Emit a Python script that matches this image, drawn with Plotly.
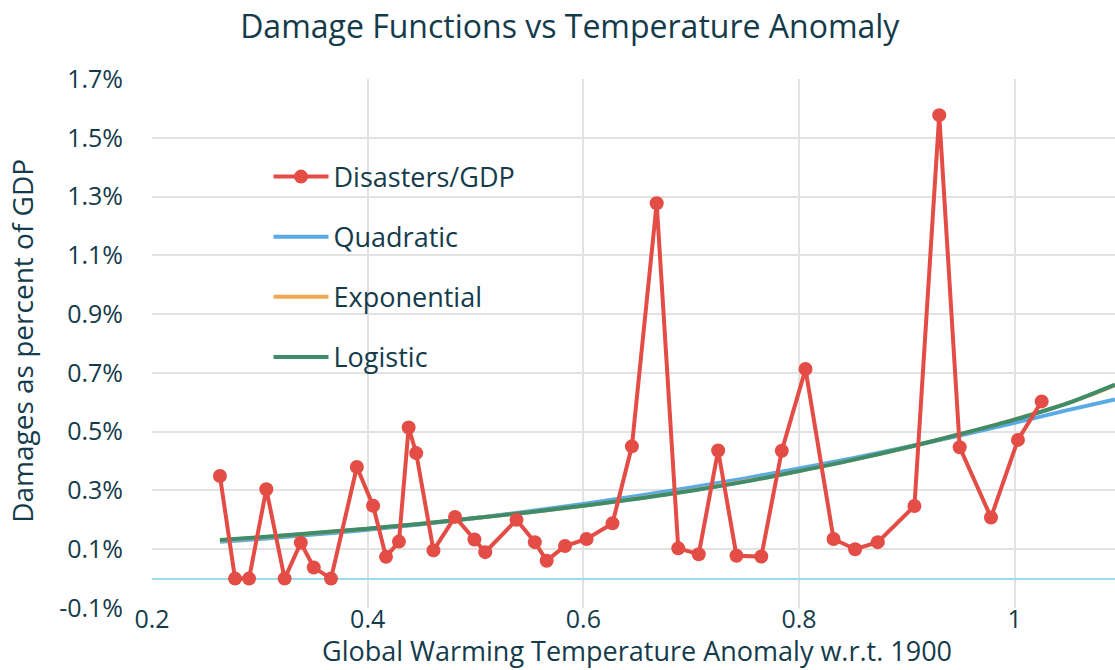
import plotly.graph_objects as go

# ---- data ----
temps = [0.263, 0.277, 0.290, 0.306, 0.323, 0.338, 0.350, 0.366, 0.390, 0.405,
         0.417, 0.429, 0.438, 0.445, 0.461, 0.481, 0.499, 0.509, 0.538, 0.555,
         0.566, 0.583, 0.603, 0.627, 0.645, 0.668, 0.688, 0.707, 0.725, 0.742,
         0.765, 0.784, 0.806, 0.832, 0.852, 0.873, 0.907, 0.930, 0.949, 0.978,
         1.003, 1.025]
damages = [0.349, 0.0, 0.0, 0.304, 0.0, 0.122, 0.038, 0.0, 0.380, 0.248,
           0.074, 0.126, 0.514, 0.427, 0.096, 0.210, 0.133, 0.090, 0.200, 0.124,
           0.061, 0.111, 0.135, 0.188, 0.450, 1.277, 0.103, 0.083, 0.436, 0.078,
           0.075, 0.435, 0.713, 0.135, 0.100, 0.124, 0.247, 1.577, 0.447, 0.208,
           0.472, 0.603]

fit_x = [0.263, 0.30, 0.35, 0.40, 0.45, 0.50, 0.55, 0.60, 0.65, 0.70,
         0.75, 0.80, 0.85, 0.90, 0.95, 1.00, 1.05, 1.093]
quadratic = [0.125, 0.135, 0.150, 0.166, 0.185, 0.206, 0.229, 0.254, 0.281, 0.310,
             0.341, 0.375, 0.410, 0.448, 0.488, 0.530, 0.574, 0.610]
exponential = [0.130, 0.140, 0.154, 0.170, 0.187, 0.206, 0.226, 0.248, 0.273, 0.300,
               0.331, 0.366, 0.404, 0.446, 0.492, 0.542, 0.598, 0.658]
logistic = [0.131, 0.141, 0.155, 0.170, 0.187, 0.206, 0.226, 0.248, 0.272, 0.299,
            0.330, 0.366, 0.404, 0.446, 0.492, 0.541, 0.598, 0.660]

y_ticks = [-0.1, 0.1, 0.3, 0.5, 0.7, 0.9, 1.1, 1.3, 1.5, 1.7]
x_ticks = [0.2, 0.4, 0.6, 0.8, 1.0]
x_tick_text = ["0.2", "0.4", "0.6", "0.8", "1"]

TEXT = "#143b4b"
FONT = "Open Sans"
RED = "#e44c46"
BLUE = "#5aaae6"
ORANGE = "#f0a852"
GREEN = "#3d8c6a"

fig = go.Figure()
fig.add_trace(go.Scatter(x=fit_x, y=quadratic, mode="lines", name="Quadratic",
                         line=dict(color=BLUE, width=4, shape="spline"),
                         legendrank=2, legendgroup="b"))
fig.add_trace(go.Scatter(x=fit_x, y=exponential, mode="lines", name="Exponential",
                         line=dict(color=ORANGE, width=4, shape="spline"),
                         legendrank=3, legendgroup="c"))
fig.add_trace(go.Scatter(x=fit_x, y=logistic, mode="lines", name="Logistic",
                         line=dict(color=GREEN, width=4, shape="spline"),
                         legendrank=4, legendgroup="d"))
fig.add_trace(go.Scatter(x=temps, y=damages, mode="lines+markers", name="Disasters/GDP",
                         line=dict(color=RED, width=4),
                         marker=dict(color=RED, size=14),
                         legendrank=1, legendgroup="a"))

fig.update_layout(
    width=1115, height=670,
    margin=dict(l=152, r=0, t=79, b=62),
    paper_bgcolor="white", plot_bgcolor="white",
    font=dict(family=FONT, color=TEXT, size=25),
    title=dict(text="Damage Functions vs Temperature Anomaly",
               x=0.511, xref="container", xanchor="center",
               y=1 - 27 / 670, yref="container", yanchor="middle",
               font=dict(size=32, color=TEXT, family=FONT)),
    showlegend=True,
    legend=dict(x=0.121, y=0.861, xanchor="left", yanchor="top",
                bgcolor="rgba(0,0,0,0)", traceorder="grouped",
                tracegroupgap=22, itemwidth=55,
                font=dict(size=27, color=TEXT, family=FONT)),
    xaxis=dict(range=[0.2, 1.093], tickvals=x_ticks, ticktext=x_tick_text,
               showgrid=True, gridcolor="#e2e2e2", gridwidth=2,
               zeroline=False, showline=False, ticks="",
               tickfont=dict(size=25, color=TEXT), ticklabelstandoff=-6),
    yaxis=dict(range=[-0.1, 1.7], tickvals=y_ticks,
               ticktext=[f"{v:.1f}%" for v in y_ticks],
               showgrid=True, gridcolor="#e2e2e2", gridwidth=2,
               zeroline=True, zerolinecolor="#9bdcef", zerolinewidth=2,
               showline=False, ticks="",
               tickfont=dict(size=25, color=TEXT), ticklabelstandoff=28),
    annotations=[
        dict(text="Global Warming Temperature Anomaly w.r.t. 1900",
             xref="paper", yref="paper", x=0.504, y=-0.080,
             xanchor="center", yanchor="middle", showarrow=False,
             font=dict(size=27, color=TEXT, family=FONT)),
        dict(text="Damages as percent of GDP", textangle=-90,
             xref="paper", yref="paper", x=-0.135, y=0.505,
             xanchor="center", yanchor="middle", showarrow=False,
             font=dict(size=28, color=TEXT, family=FONT)),
    ],
)

fig.write_html("out.html",
               config={"displayModeBar": False},
               post_script="document.body.style.margin='0px';"
                           "document.body.style.overflow='hidden';")
